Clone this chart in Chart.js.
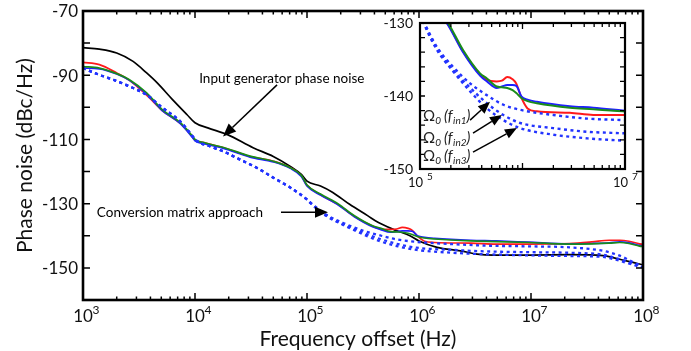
<!DOCTYPE html>
<html>
<head>
<meta charset="utf-8">
<script src="https://cdn.jsdelivr.net/npm/chart.js@4/dist/chart.umd.min.js"></script>
<style>
  html, body { margin: 0; padding: 0; background: #fff; }
  #wrap { position: relative; width: 691px; height: 351px; }
  #main { position: absolute; left: 0; top: 0; }
  #inset { position: absolute; left: 360px; top: 0; }
</style>
</head>
<body>
<div id="wrap">
  <canvas id="main" width="691" height="351"></canvas>
  <canvas id="inset" width="280" height="195"></canvas>
</div>
<script>
// ---------------- DATA ----------------
// Frequency offsets (Hz) for the measured curves
const fMeas = [1e3, 1.4e3, 2e3, 2.6e3, 3.7e3, 5.1e3, 7.4e3, 9.5e3, 1e4, 1.2e4, 1.8e4, 3.1e4, 5e4, 7.1e4, 8.9e4,
  1e5, 1.32e5, 1.9e5, 2.63e5, 3.85e5, 4.5e5, 5.6e5, 6.3e5, 7.1e5, 8e5, 8.7e5, 9.8e5, 1.12e6, 1.38e6, 2.9e6, 4.9e6,
  9.5e6, 2.2e7, 3.5e7, 5e7, 6.2e7, 7.5e7, 9.3e7, 1e8];
// Measured phase noise (dBc/Hz)
const measGreen = [-87.3, -87.8, -89.5, -91.4, -95.5, -100.7, -104.8, -109, -110, -111, -112.5, -115.2, -116.8, -118.8, -121.2,
  -124.2, -127, -130.1, -133.7, -136.9, -137.6, -138.7, -138.8, -138.9, -139.2, -139.6, -140.3, -140.7, -141, -141.6, -141.8,
  -142.1, -142.6, -142.5, -142.3, -142.1, -142.4, -143.2, -143.3];
const measBlue = [-87.8, -88.0, -89.6, -91.6, -95.8, -101, -105.1, -109.4, -110.4, -111.3, -112.8, -115.5, -117, -119, -121.5,
  -124.5, -127.3, -130.4, -134, -137.2, -138.0, -138.9, -138.7, -138.5, -138.5, -138.6, -140.1, -140.5, -140.8, -141.4, -141.6,
  -142.0, -142.5, -142.4, -142.2, -141.9, -142.2, -143.0, -143.2];
const measRed = [-86, -86.7, -89.3, -91.6, -96.2, -101, -105, -109.2, -110.2, -111, -112.6, -115.3, -116.8, -118.8, -121.3,
  -124.3, -127.2, -130.3, -133.9, -137, -137.8, -138.0, -137.9, -137.4, -137.7, -138.3, -140.3, -141.7, -142.1, -142.3, -142.6,
  -142.6, -142.4, -141.9, -141.4, -141.4, -141.7, -142.5, -142.6];

// Input generator phase noise
const fGen = [1e3, 1.4e3, 2e3, 2.8e3, 3.7e3, 4.6e3, 6.3e3, 8.5e3, 1e4, 1.3e4, 1.95e4, 3.3e4, 5e4, 7.1e4, 8.9e4,
  1e5, 1.32e5, 1.7e5, 2.4e5, 3.5e5, 4.3e5, 5.9e5, 8.3e5, 1e6, 1.45e6, 2.35e6, 3.3e6, 4.6e6, 1e7, 2.2e7, 4.4e7, 6.2e7, 9.3e7, 1e8];
const genNoise = [-81.4, -81.9, -83.1, -85.7, -89.3, -92.4, -97.6, -102.3, -104.8, -106.4, -108.5, -112.6, -115.3, -118.4, -120.9,
  -123, -124.5, -126.5, -130.2, -133.8, -135.8, -138, -140, -141.6, -143.6, -144.7, -145.7, -146, -146, -145.9, -146.2, -147.3, -148.8, -149];

// Conversion matrix approach (Omega_0 at fin1, fin2, fin3)
const fSim = [1e3, 1.4e3, 1.86e3, 2.6e3, 3.7e3, 5.1e3, 7.4e3, 9.5e3, 1.02e4, 1.35e4, 1.78e4, 2.5e4, 3.55e4, 5e4, 7.1e4,
  1e5, 1.07e5, 1.45e5, 2.1e5, 3.1e5, 4.5e5, 6.5e5, 9.5e5, 2e6, 4.3e6, 9.5e6, 2.2e7, 4.4e7, 6.2e7, 9.3e7, 1e8];
const simFin1 = [-87.8, -89.9, -91.4, -93.5, -96.1, -100.1, -104.4, -109, -110.3, -112.1, -113.7, -116.2, -118.8, -121.9, -125,
  -128.7, -129.6, -133.2, -136, -138.3, -139.9, -141.2, -141.9, -142.6, -143.1, -143.3, -143.6, -144.7, -146.2, -149.1, -149.4];
const simFin2 = [-87.8, -89.9, -91.4, -93.5, -96.1, -100.1, -104.4, -109, -110.3, -112.1, -113.7, -116.2, -118.8, -121.9, -125,
  -128.7, -129.7, -133.4, -136.4, -138.9, -141, -142.6, -143.7, -144.4, -144.9, -145.1, -145.3, -145.9, -147.3, -149.3, -149.5];
const simFin3 = [-87.8, -89.9, -91.4, -93.5, -96.1, -100.1, -104.4, -109, -110.3, -112.1, -113.7, -116.2, -118.8, -121.9, -125,
  -128.7, -129.8, -133.6, -136.6, -139.4, -141.7, -143.3, -144.4, -145.3, -145.8, -146.1, -146.3, -146.6, -147.8, -149.6, -149.8];

// Axis tick labels
const mainYLabels = [-70, -90, -110, -130, -150];
const mainXDecades = [3, 4, 5, 6, 7, 8];
const insetYLabels = [-130, -140, -150];
const insetXDecades = [5, 7];

// ---------------- HELPERS ----------------
const FONT = 'Lato, "Open Sans", sans-serif';
const pts = (xs, ys) => xs.map((x, i) => ({ x: x, y: ys[i] }));

function makeDatasets(lw, dashW, includeGen) {
  const ds = [];
  const dash = (d) => ({ data: d, borderColor: '#2233ff', borderWidth: dashW, borderDash: [3, 3.5], pointRadius: 0, fill: false, cubicInterpolationMode: 'monotone' });
  ds.push(dash(pts(fSim, simFin1)));
  ds.push(dash(pts(fSim, simFin2)));
  ds.push(dash(pts(fSim, simFin3)));
  ds.push({ data: pts(fMeas, measGreen), borderColor: '#1a8c1a', borderWidth: lw, pointRadius: 0, fill: false, cubicInterpolationMode: 'monotone' });
  ds.push({ data: pts(fMeas, measBlue), borderColor: '#1f1fff', borderWidth: lw, pointRadius: 0, fill: false, cubicInterpolationMode: 'monotone' });
  ds.push({ data: pts(fMeas, measRed), borderColor: '#ff1a1a', borderWidth: lw, pointRadius: 0, fill: false, cubicInterpolationMode: 'monotone' });
  if (includeGen) ds.push({ data: pts(fGen, genNoise), borderColor: '#000', borderWidth: lw, pointRadius: 0, fill: false, cubicInterpolationMode: 'monotone' });
  return ds;
}

function drawFrame(chart, o) {
  const { ctx, chartArea: a, scales: { x, y } } = chart;
  ctx.save();
  ctx.strokeStyle = '#000';
  ctx.lineWidth = o.tickW;
  ctx.beginPath();
  const lo = Math.round(Math.log10(x.min)), hi = Math.round(Math.log10(x.max));
  for (let d = lo; d <= hi; d++) {
    for (let m = 1; m <= 9; m++) {
      const v = m * Math.pow(10, d);
      if (v > x.max * 1.0001) break;
      const p = x.getPixelForValue(v);
      const len = m === 1 ? o.xMajor : o.xMinor;
      ctx.moveTo(p, a.bottom); ctx.lineTo(p, a.bottom - len);
      ctx.moveTo(p, a.top); ctx.lineTo(p, a.top + len);
    }
  }
  for (let v = y.min; v <= y.max + 1e-6; v += o.yStep) {
    const p = y.getPixelForValue(v);
    ctx.moveTo(a.left, p); ctx.lineTo(a.left + o.yLen, p);
    ctx.moveTo(a.right, p); ctx.lineTo(a.right - o.yLen, p);
  }
  ctx.stroke();
  ctx.lineWidth = o.frameW;
  ctx.strokeRect(a.left, a.top, a.right - a.left, a.bottom - a.top);
  ctx.restore();
}

function arrow(ctx, x1, y1, x2, y2, headL, headW) {
  const ang = Math.atan2(y2 - y1, x2 - x1);
  const bx = x2 - headL * Math.cos(ang), by = y2 - headL * Math.sin(ang);
  ctx.beginPath();
  ctx.moveTo(x1, y1); ctx.lineTo(bx, by);
  ctx.stroke();
  ctx.beginPath();
  ctx.moveTo(x2, y2);
  ctx.lineTo(bx + headW * Math.sin(ang), by - headW * Math.cos(ang));
  ctx.lineTo(bx - headW * Math.sin(ang), by + headW * Math.cos(ang));
  ctx.closePath();
  ctx.fill();
}

// ---------------- MAIN CHART ----------------
const mainPlugin = {
  id: 'mainDeco',
  afterDraw(chart) {
    const { ctx, chartArea: a, scales: { x, y } } = chart;
    drawFrame(chart, { tickW: 1.5, frameW: 2.6, xMajor: 7, xMinor: 3.5, yStep: 10, yLen: 7 });
    ctx.save();
    ctx.fillStyle = '#111';
    // y tick labels
    ctx.font = '17px ' + FONT;
    ctx.textAlign = 'right'; ctx.textBaseline = 'middle';
    mainYLabels.forEach(v => ctx.fillText(String(v), a.left - 5, y.getPixelForValue(v) + 1));
    // x tick labels 10^n
    mainXDecades.forEach(d => {
      const p = x.getPixelForValue(Math.pow(10, d));
      ctx.font = '17px ' + FONT;
      ctx.textAlign = 'center'; ctx.textBaseline = 'alphabetic';
      ctx.fillText('10', p, a.bottom + 22);
      ctx.font = '12px ' + FONT;
      ctx.textAlign = 'left';
      ctx.fillText(String(d), p + 9.5, a.bottom + 14);
    });
    // axis titles
    ctx.font = '21px ' + FONT;
    ctx.textAlign = 'center'; ctx.textBaseline = 'middle';
    ctx.fillText('Frequency offset (Hz)', (a.left + a.right) / 2 - 5, 339);
    ctx.save();
    ctx.translate(25, (a.top + a.bottom) / 2);
    ctx.rotate(-Math.PI / 2);
    ctx.fillText('Phase noise (dBc/Hz)', 0, 0);
    ctx.restore();
    // annotations (anchored in data coordinates)
    const P = (f, v) => [x.getPixelForValue(f), y.getPixelForValue(v)];
    ctx.fillStyle = '#000'; ctx.strokeStyle = '#000'; ctx.lineWidth = 1.5;
    ctx.font = '13.5px ' + FONT;
    ctx.textAlign = 'left'; ctx.textBaseline = 'middle';
    let t = P(1.09e4, -91.1);
    ctx.fillText('Input generator phase noise', t[0], t[1]);
    let s = P(5.4e4, -93.0), e = P(1.78e4, -109.1);
    arrow(ctx, s[0], s[1], e[0], e[1], 13, 5.5);
    t = P(1.33e3, -132.7);
    ctx.fillText('Conversion matrix approach', t[0], t[1]);
    s = P(5.86e4, -132.7); e = P(1.54e5, -132.7);
    arrow(ctx, s[0], s[1], e[0], e[1], 13, 5.5);
    ctx.restore();
  }
};

new Chart(document.getElementById('main'), {
  type: 'line',
  data: { datasets: makeDatasets(1.7, 2.3, true) },
  options: {
    responsive: false, animation: false, devicePixelRatio: 1,
    layout: { padding: { left: 0, right: 48, top: 11, bottom: 0 } },
    plugins: { legend: { display: false }, tooltip: { enabled: false } },
    scales: {
      x: { type: 'logarithmic', min: 1e3, max: 1e8, ticks: { display: false }, grid: { display: false }, border: { display: false },
           afterFit: s => { s.height = 51; } },
      y: { type: 'linear', min: -160, max: -70, ticks: { display: false, stepSize: 10 }, grid: { display: false }, border: { display: false },
           afterFit: s => { s.width = 83; } }
    }
  },
  plugins: [mainPlugin]
});

// ---------------- INSET CHART ----------------
const insetPlugin = {
  id: 'insetDeco',
  beforeDatasetsDraw(chart) {
    const { ctx, chartArea: a } = chart;
    ctx.save(); ctx.fillStyle = '#fff';
    ctx.fillRect(a.left, a.top, a.right - a.left, a.bottom - a.top);
    ctx.restore();
  },
  afterDraw(chart) {
    const { ctx, chartArea: a, scales: { x, y } } = chart;
    drawFrame(chart, { tickW: 1.3, frameW: 2.2, xMajor: 6, xMinor: 4, yStep: 2, yLen: 5 });
    ctx.save();
    ctx.fillStyle = '#111';
    ctx.font = '14px ' + FONT;
    ctx.textAlign = 'right'; ctx.textBaseline = 'middle';
    insetYLabels.forEach(v => ctx.fillText(String(v), a.left - 7, y.getPixelForValue(v)));
    insetXDecades.forEach(d => {
      const p = x.getPixelForValue(Math.pow(10, d));
      ctx.font = '13px ' + FONT;
      ctx.textAlign = 'right'; ctx.textBaseline = 'alphabetic';
      ctx.fillText('10', p + 3, a.bottom + 18);
      ctx.font = '10px ' + FONT;
      ctx.textAlign = 'left';
      ctx.fillText(String(d), p + 7, a.bottom + 11);
    });
    // Omega labels and arrows
    const P = (f, v) => [x.getPixelForValue(f), y.getPixelForValue(v)];
    const labels = [['1', -142.8], ['2', -145.7], ['3', -148.2]];
    ctx.fillStyle = '#222';
    ctx.textBaseline = 'alphabetic';
    labels.forEach(([n, v]) => {
      let [px, py] = P(1.07e5, v);
      py += 5;
      ctx.textAlign = 'left';
      ctx.font = '15px ' + FONT; ctx.fillText('\u03A9', px, py); px += ctx.measureText('\u03A9').width;
      ctx.font = 'italic 10px ' + FONT; ctx.fillText('0', px, py + 3); px += ctx.measureText('0').width + 3;
      ctx.font = 'italic 15px ' + FONT; ctx.fillText('(', px, py); px += ctx.measureText('(').width;
      ctx.fillText('f', px, py); px += ctx.measureText('f').width + 0.5;
      ctx.font = 'italic 10px ' + FONT; ctx.fillText('in' + n, px, py + 3); px += ctx.measureText('in' + n).width;
      ctx.font = 'italic 15px ' + FONT; ctx.fillText(')', px, py);
    });
    ctx.fillStyle = '#000'; ctx.strokeStyle = '#000'; ctx.lineWidth = 1.5;
    let s = P(3.08e5, -143.3), e = P(4.82e5, -140.8);
    arrow(ctx, s[0], s[1], e[0], e[1], 12, 5);
    s = P(3.29e5, -145.1); e = P(6.3e5, -142.6);
    arrow(ctx, s[0], s[1], e[0], e[1], 12, 5);
    s = P(3.29e5, -147.7); e = P(8.83e5, -144.4);
    arrow(ctx, s[0], s[1], e[0], e[1], 12, 5);
    ctx.restore();
  }
};

new Chart(document.getElementById('inset'), {
  type: 'line',
  data: { datasets: makeDatasets(2.0, 2.4, false) },
  options: {
    responsive: false, animation: false, devicePixelRatio: 1,
    layout: { padding: { left: 0, right: 15, top: 23, bottom: 0 } },
    plugins: { legend: { display: false }, tooltip: { enabled: false } },
    scales: {
      x: { type: 'logarithmic', min: 1e5, max: 1e7, ticks: { display: false }, grid: { display: false }, border: { display: false },
           afterFit: s => { s.height = 26; } },
      y: { type: 'linear', min: -150, max: -130, ticks: { display: false, stepSize: 2 }, grid: { display: false }, border: { display: false },
           afterFit: s => { s.width = 60; } }
    }
  },
  plugins: [insetPlugin]
});
</script>
</body>
</html>
